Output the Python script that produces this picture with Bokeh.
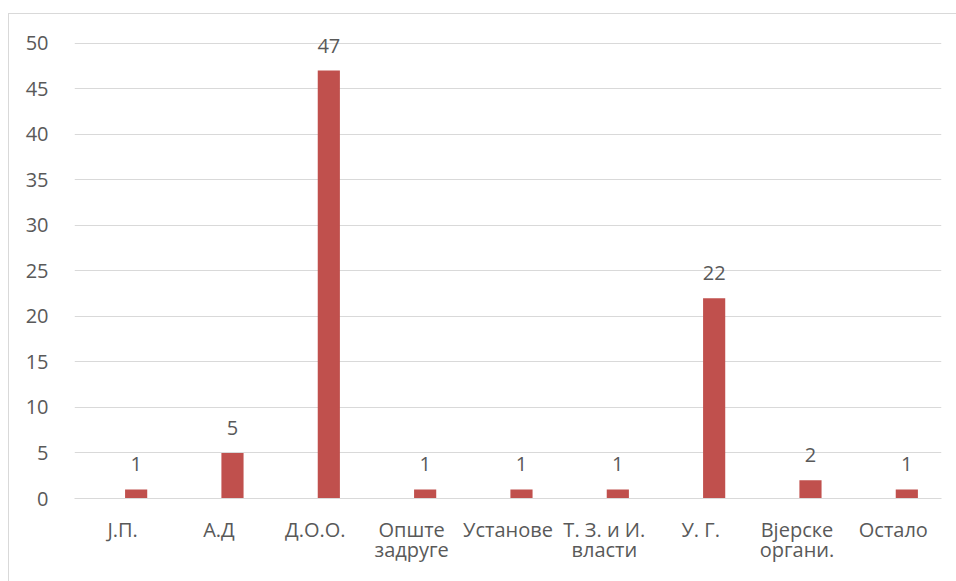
from bokeh.plotting import figure
from bokeh.models import FactorRange, Range1d, ColumnDataSource, SingleIntervalTicker
from bokeh.transform import dodge
from bokeh.core.properties import value
from bokeh.embed import file_html
from bokeh.resources import INLINE

categories = ["Ј.П.", "А.Д", "Д.О.О.", "Опште\nзадруге", "Установе",
              "Т. З. и И.\nвласти", "У. Г.", "Вјерске\nоргани.", "Остало"]
counts = [1, 5, 47, 1, 1, 1, 22, 2, 1]
labels = [str(v) for v in counts]

FONT = "Open Sans"
TXT = "#595959"
GRID = "#d9d9d9"
BAR = "#C0504D"

src = ColumnDataSource(dict(cat=categories, val=counts, lab=labels))

p = figure(x_range=FactorRange(factors=categories, range_padding=0),
           y_range=Range1d(0, 52.5),
           width=948, height=568, output_backend="svg", toolbar_location=None,
           min_border_left=65, min_border_right=16, min_border_top=6, min_border_bottom=84)
p.margin = (13, 0, 0, 8)
p.styles = {"border-left": "1px solid #d9d9d9", "border-top": "1px solid #d9d9d9"}
p.outline_line_color = None

p.vbar(x=dodge("cat", 0.14, range=p.x_range), top="val", width=0.23,
       color=BAR, line_color=None, source=src)
p.text(x=dodge("cat", 0.14, range=p.x_range), y="val", text="lab", source=src,
       text_font=value(FONT), text_font_size="20px", text_color=TXT,
       text_align="center", text_baseline="alphabetic", y_offset=-25)

p.yaxis.ticker = SingleIntervalTicker(interval=5)
p.yaxis.axis_line_color = None
p.yaxis.major_tick_line_color = None
p.yaxis.minor_tick_line_color = None
p.yaxis.major_label_standoff = 20
p.xaxis.axis_line_color = GRID
p.xaxis.major_tick_line_color = None
p.xaxis.minor_tick_line_color = None
p.xaxis.major_label_standoff = 11
p.xaxis.major_label_text_line_height = 0.75
for ax in (p.xaxis, p.yaxis):
    ax.major_label_text_font = FONT
    ax.major_label_text_font_size = "20px"
    ax.major_label_text_color = TXT
p.xgrid.grid_line_color = None
p.ygrid.grid_line_color = GRID
p.ygrid.grid_line_width = 1

open("out.html", "w").write(file_html(p, INLINE))
